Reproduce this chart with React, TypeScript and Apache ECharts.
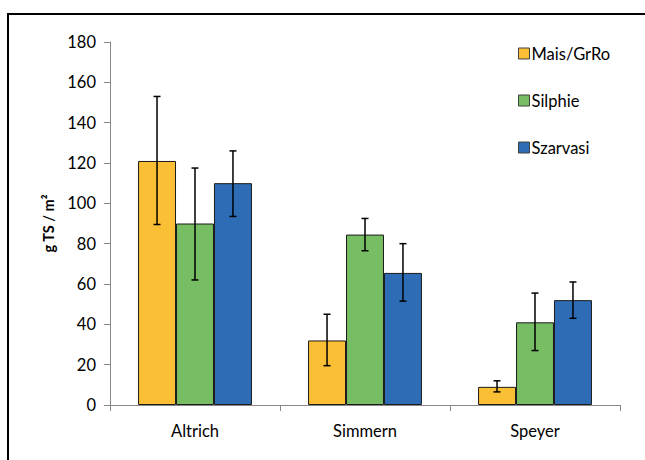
import React, { useEffect, useRef } from "react";
import * as echarts from "echarts";

const categories = ["Altrich", "Simmern", "Speyer"];
const seriesNames = ["Mais/GrRo", "Silphie", "Szarvasi"];
const maisValues = [121, 32, 9];
const silphieValues = [90, 84.5, 41];
const szarvasiValues = [110, 65.5, 52];
const maisLow = [89.5, 19.5, 6.5];
const maisHigh = [153, 45, 12];
const silphieLow = [62, 76.5, 27];
const silphieHigh = [117.5, 92.5, 55.5];
const szarvasiLow = [93.5, 51.5, 43];
const szarvasiHigh = [126, 80, 61];
const colors = ["#FBBF35", "#77BD63", "#2E6DB6"];

const CAT_GAP = 0.33;

export default function App() {
  const ref = useRef<HTMLDivElement>(null);
  useEffect(() => {
    const chart = echarts.init(ref.current!, null, { renderer: "svg" });
    const values = [maisValues, silphieValues, szarvasiValues];
    const lows = [maisLow, silphieLow, szarvasiLow];
    const highs = [maisHigh, silphieHigh, szarvasiHigh];
    const font = "Lato";
    const barSeries = seriesNames.map((name, i) => ({
      name,
      type: "bar",
      data: values[i],
      barGap: "0%",
      barCategoryGap: CAT_GAP * 100 + "%",
      itemStyle: { color: colors[i], borderColor: "#1a1a1a", borderWidth: 1 },
    }));
    const errSeries = seriesNames.map((name, i) => ({
      type: "custom",
      name: name + "_err",
      data: categories.map((_, c) => [c, lows[i][c], highs[i][c]]),
      encode: { x: 0, y: [1, 2] },
      z: 10,
      renderItem: (params: any, api: any) => {
        const c = api.value(0);
        const lo = api.coord([c, api.value(1)]);
        const hi = api.coord([c, api.value(2)]);
        const band = api.size([1, 0])[0];
        const bw = (band * (1 - CAT_GAP)) / 3;
        const x = lo[0] + (i - 1) * bw;
        const cap = 3.5;
        const style = { stroke: "#000", lineWidth: 1.5 };
        return {
          type: "group",
          children: [
            { type: "line", shape: { x1: x, y1: lo[1], x2: x, y2: hi[1] }, style },
            { type: "line", shape: { x1: x - cap, y1: lo[1], x2: x + cap, y2: lo[1] }, style },
            { type: "line", shape: { x1: x - cap, y1: hi[1], x2: x + cap, y2: hi[1] }, style },
          ],
        };
      },
    }));
    chart.setOption({
      animation: false,
      textStyle: { fontFamily: font },
      graphic: [
        {
          type: "rect",
          shape: { x: 8, y: 14, width: 700, height: 520 },
          style: { fill: "none", stroke: "#000", lineWidth: 2 },
          z: -1,
        },
      ],
      legend: {
        data: seriesNames,
        orient: "vertical",
        left: 513,
        top: 40,
        itemWidth: 11,
        itemHeight: 11,
        itemGap: 30,
        icon: "rect",
        itemStyle: { borderColor: "#404040", borderWidth: 1 },
        textStyle: { fontFamily: font, fontSize: 16.5, color: "#000", padding: [0, 0, 0, -3] },
      },
      grid: { left: 110, right: 25, top: 42, bottom: 55, containLabel: false },
      xAxis: {
        type: "category",
        data: categories,
        axisLine: { lineStyle: { color: "#888", width: 1 } },
        axisTick: { show: true, length: 6, lineStyle: { color: "#888" } },
        axisLabel: { fontFamily: font, fontSize: 16.5, color: "#000", margin: 17 },
      },
      yAxis: {
        type: "value",
        min: 0,
        max: 180,
        interval: 20,
        name: "g TS / m²",
        nameLocation: "middle",
        nameGap: 53,
        nameRotate: 90,
        nameTextStyle: { fontFamily: font, fontSize: 14.5, fontWeight: "bold", color: "#000" },
        splitLine: { show: false },
        axisLine: { show: true, lineStyle: { color: "#888", width: 1 } },
        axisTick: { show: true, length: 6, lineStyle: { color: "#888" } },
        axisLabel: { fontFamily: font, fontSize: 16.5, color: "#000", margin: 14 },
      },
      series: [...barSeries, ...errSeries],
    });
    return () => chart.dispose();
  }, []);
  return (
    <div
      ref={ref}
      style={{ position: "fixed", left: 0, top: 0, width: 645, height: 460, background: "#fff" }}
    />
  );
}
